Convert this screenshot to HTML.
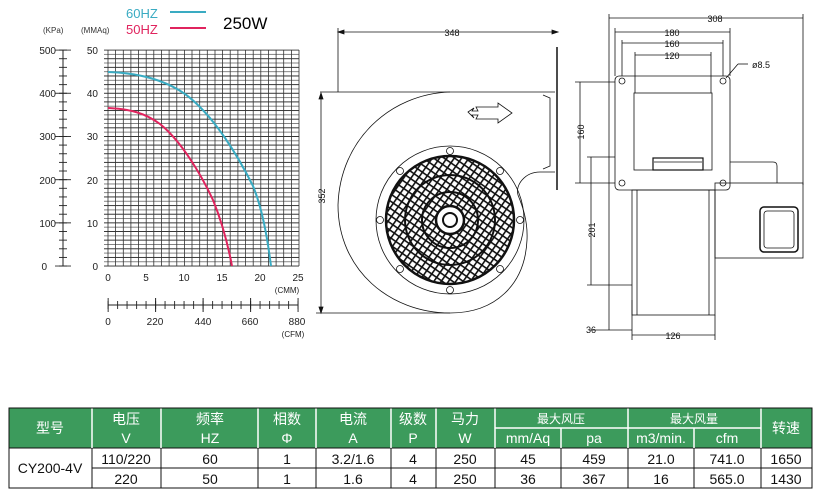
<!DOCTYPE html>
<html><head><meta charset="utf-8"><style>
html,body{margin:0;padding:0;background:#fff;}
svg{display:block;font-family:"Liberation Sans","Noto Sans CJK SC",sans-serif;}
</style></head><body>
<svg width="821" height="498" viewBox="0 0 821 498" xmlns="http://www.w3.org/2000/svg">
<defs>
<pattern id="hgrid" patternUnits="userSpaceOnUse" x="0" y="49.6" width="10" height="8.64">
<rect x="0" y="0" width="10" height="0.9" fill="#222"/>
<rect x="0" y="4.32" width="10" height="0.9" fill="#777"/>
</pattern>
<pattern id="ltick" patternUnits="userSpaceOnUse" x="0" y="49.6" width="20" height="8.64">
<rect x="0" y="0" width="20" height="0.9" fill="#222"/>
</pattern>
<pattern id="ltickM" patternUnits="userSpaceOnUse" x="0" y="49.6" width="20" height="43.2">
<rect x="0" y="0" width="20" height="0.9" fill="#222"/>
</pattern>
<pattern id="ctick" patternUnits="userSpaceOnUse" x="107.6" y="0" width="9.5" height="20">
<rect x="0" y="0" width="0.9" height="20" fill="#222"/>
</pattern>
<pattern id="ctickM" patternUnits="userSpaceOnUse" x="107.6" y="0" width="47.5" height="20">
<rect x="0" y="0" width="1" height="20" fill="#222"/>
</pattern>
<pattern id="mesh" patternUnits="userSpaceOnUse" width="6" height="6" patternTransform="rotate(35)">
<rect width="6" height="6" fill="#fff"/>
<rect x="0" y="0" width="6" height="1.6" fill="#111"/>
<rect x="0" y="0" width="1.6" height="6" fill="#111"/>
</pattern>
<clipPath id="gc"><circle cx="450" cy="220" r="63"/></clipPath>
</defs>
<!-- legend -->
<text x="126" y="18" font-size="13" fill="#3aabc2">60HZ</text>
<line x1="170" y1="12" x2="206" y2="12" stroke="#3aabc2" stroke-width="2"/>
<text x="126" y="34" font-size="13" fill="#e0245e">50HZ</text>
<line x1="170" y1="28" x2="206" y2="28" stroke="#e0245e" stroke-width="2"/>
<text x="223" y="29" font-size="17" fill="#000">250W</text>
<text x="43" y="33" font-size="8" fill="#333">(KPa)</text>
<text x="81" y="33" font-size="8" fill="#333">(MMAq)</text>
<!-- grid -->
<rect x="104" y="49.6" width="195" height="217" fill="url(#hgrid)"/>
<g stroke="#333" stroke-width="0.8">
<line x1="108" y1="50" x2="108" y2="266"/>
<line x1="115.6" y1="50" x2="115.6" y2="266"/><line x1="123.3" y1="50" x2="123.3" y2="266"/><line x1="130.9" y1="50" x2="130.9" y2="266"/><line x1="138.6" y1="50" x2="138.6" y2="266"/><line x1="146.2" y1="50" x2="146.2" y2="266"/><line x1="153.8" y1="50" x2="153.8" y2="266"/><line x1="161.5" y1="50" x2="161.5" y2="266"/><line x1="169.1" y1="50" x2="169.1" y2="266"/><line x1="176.8" y1="50" x2="176.8" y2="266"/><line x1="184.4" y1="50" x2="184.4" y2="266"/><line x1="192" y1="50" x2="192" y2="266"/><line x1="199.7" y1="50" x2="199.7" y2="266"/><line x1="207.3" y1="50" x2="207.3" y2="266"/><line x1="215" y1="50" x2="215" y2="266"/><line x1="222.6" y1="50" x2="222.6" y2="266"/><line x1="230.2" y1="50" x2="230.2" y2="266"/><line x1="237.9" y1="50" x2="237.9" y2="266"/><line x1="245.5" y1="50" x2="245.5" y2="266"/><line x1="253.2" y1="50" x2="253.2" y2="266"/><line x1="260.8" y1="50" x2="260.8" y2="266"/><line x1="268.4" y1="50" x2="268.4" y2="266"/><line x1="276.1" y1="50" x2="276.1" y2="266"/><line x1="283.7" y1="50" x2="283.7" y2="266"/><line x1="291.4" y1="50" x2="291.4" y2="266"/><line x1="299" y1="50" x2="299" y2="266"/>
</g>
<!-- left axis -->
<line x1="63" y1="50" x2="63" y2="266" stroke="#222"/>
<rect x="59" y="49.6" width="8" height="217" fill="url(#ltick)"/>
<rect x="55" y="49.6" width="16" height="217" fill="url(#ltickM)"/>
<g font-size="10" fill="#222" text-anchor="end">
<text x="56" y="54">500</text><text x="56" y="97">400</text><text x="56" y="140">300</text><text x="56" y="184">200</text><text x="56" y="227">100</text><text x="47" y="270">0</text>
<text x="98" y="54">50</text><text x="98" y="97">40</text><text x="98" y="140">30</text><text x="98" y="184">20</text><text x="98" y="227">10</text><text x="98" y="270">0</text>
</g>
<g font-size="10" fill="#222" text-anchor="middle">
<text x="108" y="281">0</text><text x="146" y="281">5</text><text x="184" y="281">10</text><text x="222" y="281">15</text><text x="260" y="281">20</text><text x="298" y="281">25</text>
<text x="287" y="293" font-size="8">(CMM)</text>
<text x="108" y="325">0</text><text x="155" y="325">220</text><text x="203" y="325">440</text><text x="250" y="325">660</text><text x="297" y="325">880</text>
<text x="293" y="337" font-size="8">(CFM)</text>
</g>
<line x1="108" y1="305" x2="298" y2="305" stroke="#222"/>
<rect x="107.6" y="301" width="191" height="8" fill="url(#ctick)"/>
<rect x="107.6" y="298" width="191" height="14" fill="url(#ctickM)"/>
<!-- curves -->
<path d="M108,72 C140,73 165,80 185,94 C215,116 240,160 253,186 C262,208 267,235 271,266" fill="none" stroke="#3aabc2" stroke-width="2"/>
<path d="M108,108 C130,109 145,113 160,124 C180,140 200,172 213,200 C222,222 228,245 232,266" fill="none" stroke="#e0245e" stroke-width="2"/>

<!-- side view -->
<rect x="386" y="156" width="128" height="128" fill="url(#mesh)" clip-path="url(#gc)"/>
<g fill="none" stroke="#111" stroke-width="0.8">
<line x1="338" y1="32" x2="558" y2="32"/><line x1="338" y1="28" x2="338" y2="92"/>
<path d="M338,32 l6,-2 v4z M558,32 l-6,-2 v4z" fill="#111"/>
<line x1="557" y1="47" x2="557" y2="190" stroke-width="1.5"/>
<line x1="320" y1="92" x2="555" y2="92"/>
<line x1="321" y1="93" x2="321" y2="313"/>
<path d="M321,93 l-2,6 h4z M321,313 l-2,-6 h4z" fill="#111"/>
<line x1="316" y1="313" x2="450" y2="313"/>
<path d="M450,92 C390,94 340,140 338,205 C338,270 390,313 450,313 C495,313 525,285 527,240 C528,220 522,205 518,195 C515,185 525,172 540,172 L555,172"/>
<path d="M543,95 L550,98 L550,166 L543,169"/>
<circle cx="450" cy="220" r="74"/>
<circle cx="450" cy="220" r="64" stroke-width="2.5"/>
<circle cx="450" cy="220" r="45" stroke-width="2"/>
<circle cx="450" cy="220" r="28" stroke-width="2"/>
<circle cx="450" cy="220" r="14" stroke-width="2.5" fill="#fff"/>
<circle cx="450" cy="220" r="7" stroke-width="2"/>
<circle cx="450" cy="151" r="3.5" fill="#fff"/><circle cx="450" cy="290" r="3.5" fill="#fff"/><circle cx="380" cy="220" r="3.5" fill="#fff"/><circle cx="520" cy="220" r="3.5" fill="#fff"/>
<circle cx="400" cy="171" r="3.5" fill="#fff"/><circle cx="500" cy="171" r="3.5" fill="#fff"/><circle cx="400" cy="269" r="3.5" fill="#fff"/><circle cx="500" cy="269" r="3.5" fill="#fff"/>
<path d="M468,112 l6,-4 l-2,3 h6 l-2,-4 h22 v-4 l14,10 l-14,10 v-4 h-22 l2,-4 h-6 l2,3 z"/>
</g>
<text x="452" y="36" font-size="9" text-anchor="middle" fill="#111">348</text>
<text x="325" y="196" font-size="9" text-anchor="middle" fill="#111" transform="rotate(-90 325 196)">352</text>

<!-- front view -->
<g fill="none" stroke="#111" stroke-width="0.8">
<line x1="609" y1="18" x2="803" y2="18"/><line x1="609" y1="14" x2="609" y2="330"/><line x1="803" y1="14" x2="803" y2="185"/>
<line x1="615" y1="32" x2="730" y2="32"/><line x1="615" y1="28" x2="615" y2="76"/><line x1="730" y1="28" x2="730" y2="76"/>
<line x1="622" y1="43" x2="723" y2="43"/><line x1="622" y1="40" x2="622" y2="76"/><line x1="723" y1="40" x2="723" y2="76"/>
<line x1="635" y1="55" x2="711" y2="55"/><line x1="635" y1="52" x2="635" y2="93"/><line x1="711" y1="52" x2="711" y2="93"/>
<rect x="615" y="76" width="115" height="114" rx="4"/>
<circle cx="622" cy="81" r="3"/><circle cx="723" cy="81" r="3"/><circle cx="622" cy="183" r="3"/><circle cx="723" cy="183" r="3"/>
<rect x="634" y="93" width="78" height="77"/>
<rect x="653" y="158" width="50" height="12" stroke-width="1.2"/>
<line x1="654" y1="162" x2="702" y2="162"/>
<path d="M730,162 H773 Q777,162 777,166 V183"/>
<rect x="715" y="183" width="88" height="75"/>
<rect x="760" y="207" width="38" height="45" rx="4" stroke-width="1.5"/>
<rect x="764" y="211" width="30" height="37" rx="3"/>
<rect x="632" y="190" width="83" height="125"/>
<line x1="637" y1="190" x2="637" y2="315"/><line x1="709" y1="190" x2="709" y2="315"/>
<line x1="580" y1="82" x2="580" y2="183"/><line x1="575" y1="82" x2="615" y2="82"/><line x1="575" y1="183" x2="615" y2="183"/>
<line x1="591" y1="157" x2="591" y2="285"/><line x1="587" y1="157" x2="615" y2="157"/><line x1="587" y1="285" x2="632" y2="285"/>
<line x1="590" y1="330" x2="632" y2="330"/><line x1="632" y1="300" x2="632" y2="340"/>
<line x1="632" y1="335" x2="715" y2="335"/><line x1="715" y1="315" x2="715" y2="340"/>
<line x1="726" y1="78" x2="738" y2="64"/><line x1="738" y1="64" x2="748" y2="64"/>
</g>
<g font-size="9" fill="#111" text-anchor="middle">
<text x="715" y="22">308</text><text x="672" y="36">180</text><text x="672" y="47">160</text><text x="672" y="59">120</text>
<text x="761" y="68">ø8.5</text>
<text x="584" y="132" transform="rotate(-90 584 132)">160</text>
<text x="595" y="230" transform="rotate(-90 595 230)">201</text>
<text x="591" y="333">36</text><text x="673" y="339">126</text>
</g>

<!-- table -->
<g font-size="14" text-anchor="middle">
<rect x="9" y="408" width="803" height="40" fill="#3c9b5c"/>
<rect x="9" y="448" width="803" height="40" fill="#fff" stroke="#111"/>
<g stroke="#fff" stroke-width="1.5">
<line x1="92" y1="408" x2="92" y2="448"/><line x1="161" y1="408" x2="161" y2="448"/><line x1="258" y1="408" x2="258" y2="448"/><line x1="316" y1="408" x2="316" y2="448"/><line x1="391" y1="408" x2="391" y2="448"/><line x1="436" y1="408" x2="436" y2="448"/><line x1="495" y1="408" x2="495" y2="448"/><line x1="561" y1="428" x2="561" y2="448"/><line x1="628" y1="408" x2="628" y2="448"/><line x1="694" y1="428" x2="694" y2="448"/><line x1="761" y1="408" x2="761" y2="448"/>
<line x1="495" y1="428" x2="761" y2="428"/>
</g>
<g stroke="#111" stroke-width="1">
<rect x="9" y="408" width="803" height="80" fill="none"/>
<line x1="92" y1="448" x2="92" y2="488"/><line x1="161" y1="448" x2="161" y2="488"/><line x1="258" y1="448" x2="258" y2="488"/><line x1="316" y1="448" x2="316" y2="488"/><line x1="391" y1="448" x2="391" y2="488"/><line x1="436" y1="448" x2="436" y2="488"/><line x1="495" y1="448" x2="495" y2="488"/><line x1="561" y1="448" x2="561" y2="488"/><line x1="628" y1="448" x2="628" y2="488"/><line x1="694" y1="448" x2="694" y2="488"/><line x1="761" y1="448" x2="761" y2="488"/>
<line x1="92" y1="468" x2="812" y2="468"/>
</g>
<g fill="#fff">
<text x="50" y="433">型号</text>
<text x="126" y="424">电压</text><text x="126" y="443">V</text>
<text x="210" y="424">频率</text><text x="210" y="443">HZ</text>
<text x="287" y="424">相数</text><text x="287" y="443">Φ</text>
<text x="353" y="424">电流</text><text x="353" y="443">A</text>
<text x="413" y="424">级数</text><text x="413" y="443">P</text>
<text x="465" y="424">马力</text><text x="465" y="443">W</text>
<text x="561" y="423" font-size="12">最大风压</text>
<text x="528" y="443">mm/Aq</text><text x="594" y="443">pa</text>
<text x="694" y="423" font-size="12">最大风量</text>
<text x="661" y="443">m3/min.</text><text x="727" y="443">cfm</text>
<text x="786" y="433">转速</text>
</g>
<g fill="#111">
<text x="50" y="473">CY200-4V</text>
<text x="126" y="464">110/220</text><text x="210" y="464">60</text><text x="287" y="464">1</text><text x="353" y="464">3.2/1.6</text><text x="413" y="464">4</text><text x="465" y="464">250</text><text x="528" y="464">45</text><text x="594" y="464">459</text><text x="661" y="464">21.0</text><text x="727" y="464">741.0</text><text x="786" y="464">1650</text>
<text x="126" y="484">220</text><text x="210" y="484">50</text><text x="287" y="484">1</text><text x="353" y="484">1.6</text><text x="413" y="484">4</text><text x="465" y="484">250</text><text x="528" y="484">36</text><text x="594" y="484">367</text><text x="661" y="484">16</text><text x="727" y="484">565.0</text><text x="786" y="484">1430</text>
</g>
</g>
</svg>
</body></html>
